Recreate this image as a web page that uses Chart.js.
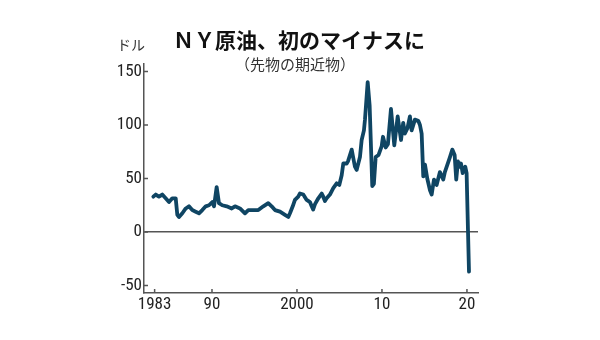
<!DOCTYPE html>
<html lang="ja">
<head>
<meta charset="utf-8">
<title>NY原油、初のマイナスに</title>
<script src="https://cdn.jsdelivr.net/npm/chart.js@4/dist/chart.umd.min.js"></script>
<style>
  html, body { margin: 0; padding: 0; background: #fff; }
  #wrap { width: 600px; height: 340px; }
</style>
</head>
<body>
<div id="wrap"><canvas id="oil" width="600" height="340"></canvas></div>
<script>
// WTI front-month futures, USD per barrel
const years = [
  1983.1, 1983.38, 1983.76, 1984.15, 1984.55, 1984.94, 1985.33, 1985.73, 1985.92, 1986.12,
  1986.51, 1986.91, 1987.29, 1987.68, 1988.08, 1988.47, 1988.86, 1989.26, 1989.65, 1990.04,
  1990.24, 1990.55, 1990.82, 1991.21, 1991.73, 1992.32, 1992.71, 1993.29, 1993.88, 1994.27,
  1994.86, 1995.45, 1996.04, 1996.62, 1997.02, 1997.41, 1998.0, 1998.59, 1998.98, 1999.2,
  1999.5, 1999.76, 2000.15, 2000.35, 2000.74, 2001.14, 2001.53, 2001.73, 2001.9, 2002.12,
  2002.51, 2002.91, 2003.09, 2003.29, 2003.49, 2003.88, 2004.27, 2004.67, 2004.98, 2005.26,
  2005.45, 2005.85, 2006.0, 2006.44, 2006.82, 2007.02, 2007.41, 2007.61, 2007.88, 2008.0,
  2008.32, 2008.55, 2008.86, 2009.05, 2009.26, 2009.6, 2009.96, 2010.12, 2010.44, 2010.7,
  2011.06, 2011.45, 2011.85, 2012.24, 2012.5, 2012.7, 2013.0, 2013.29, 2013.49, 2013.88,
  2014.27, 2014.47, 2014.67, 2014.86, 2015.06, 2015.33, 2015.65, 2015.85, 2016.12, 2016.43,
  2016.82, 2017.21, 2017.4, 2017.96, 2018.28, 2018.55, 2018.74, 2018.94, 2019.2, 2019.3,
  2019.5, 2019.8, 2019.96, 2020.12, 2020.24
]
const prices = [
  33, 35, 33, 35, 31.5, 28, 31.5, 31.5, 16, 14,
  17.5, 22, 24, 20.5, 19, 17.5, 20.5, 24, 25, 28,
  24, 42, 27, 25, 24, 22, 24, 22, 17.5, 20.5,
  20.5, 20.5, 24, 27, 24, 20.5, 19, 16, 14, 18,
  24, 30, 33, 36, 35, 30, 28, 24, 21, 26,
  31.5, 36, 33, 29, 31.5, 35, 41, 45.5, 44, 53,
  64, 64, 66, 77, 61, 58, 70, 86, 95, 105,
  140, 118, 43, 45, 70, 72, 80, 89, 79, 82,
  115, 81, 108, 86, 102, 92, 97, 108, 95, 105,
  104, 100, 92, 52, 63, 50, 39, 35, 49, 44,
  56, 49, 56, 69, 77, 72, 49, 66, 61, 64,
  55, 61, 55, 2, -37
]

const yTicks = [-50, 0, 50, 100, 150]
const xTicks = [1983.25, 1990, 2000, 2010, 2020]
const xTickLabels = ['1983', '90', '2000', '10', '20']

const TITLE = 'ＮＹ原油、初のマイナスに'
const SUBTITLE = '（先物の期近物）'
const UNIT = 'ドル'

const AXIS_COLOR = '#555'
const LINE_COLOR = '#0f4563'
const TICK_FONT = { family: "'Roboto Condensed', 'Liberation Sans', sans-serif", size: 17 }

// headings and the small inward tick marks
const decor = {
  id: 'decor',
  afterDraw(chart) {
    const { ctx, scales } = chart
    const x = scales.x, y = scales.y
    ctx.save()
    ctx.strokeStyle = AXIS_COLOR
    ctx.lineWidth = 1.5
    ctx.beginPath()
    y.ticks.forEach(t => {
      const py = y.getPixelForValue(t.value)
      ctx.moveTo(x.left, py)
      ctx.lineTo(x.left + 4, py)
    })
    x.ticks.forEach(t => {
      const px = x.getPixelForValue(t.value)
      ctx.moveTo(px, y.bottom)
      ctx.lineTo(px, y.bottom - 4)
    })
    ctx.stroke()

    ctx.textAlign = 'center'
    ctx.textBaseline = 'middle'
    ctx.fillStyle = '#111'
    ctx.font = "bold 21px 'Noto Sans CJK JP', sans-serif"
    ctx.fillText(TITLE, 299, 40)
    ctx.fillStyle = '#333'
    ctx.font = "15px 'Noto Sans CJK JP', sans-serif"
    ctx.fillText(SUBTITLE, 295, 64)
    ctx.font = "14px 'Noto Sans CJK JP', sans-serif"
    ctx.fillText(UNIT, 131, 45)
    ctx.restore()
  }
}

new Chart(document.getElementById('oil'), {
  type: 'line',
  data: {
    datasets: [{
      data: years.map((yr, i) => ({ x: yr, y: prices[i] })),
      borderColor: LINE_COLOR,
      borderWidth: 3.8,
      borderJoinStyle: 'round',
      borderCapStyle: 'round',
      pointRadius: 0,
      tension: 0,
      fill: false,
    }],
  },
  options: {
    responsive: false,
    devicePixelRatio: 1,
    animation: false,
    layout: { padding: { top: 64, right: 122, bottom: 0, left: 0 } },
    plugins: { legend: { display: false }, tooltip: { enabled: false } },
    scales: {
      x: {
        type: 'linear',
        min: 1982,
        max: 2021.3,
        afterBuildTicks: s => { s.ticks = xTicks.map(v => ({ value: v })) },
        afterFit: s => { s.height = 47 },
        grid: { color: 'transparent', drawTicks: false },
        border: { color: AXIS_COLOR, width: 1.5 },
        ticks: {
          color: '#222',
          font: TICK_FONT,
          padding: 2,
          maxRotation: 0,
          autoSkip: false,
          callback: v => xTickLabels[xTicks.indexOf(v)],
        },
      },
      y: {
        min: -57,
        max: 157,
        afterBuildTicks: s => { s.ticks = yTicks.map(v => ({ value: v })) },
        afterFit: s => { s.width = 144 },
        grid: {
          drawTicks: false,
          color: c => (c.tick && c.tick.value === 0 ? AXIS_COLOR : 'transparent'),
          lineWidth: 1.5,
        },
        border: { color: AXIS_COLOR, width: 1.5 },
        ticks: { color: '#222', font: TICK_FONT, padding: 2 },
      },
    },
  },
  plugins: [decor],
})
</script>
</body>
</html>
